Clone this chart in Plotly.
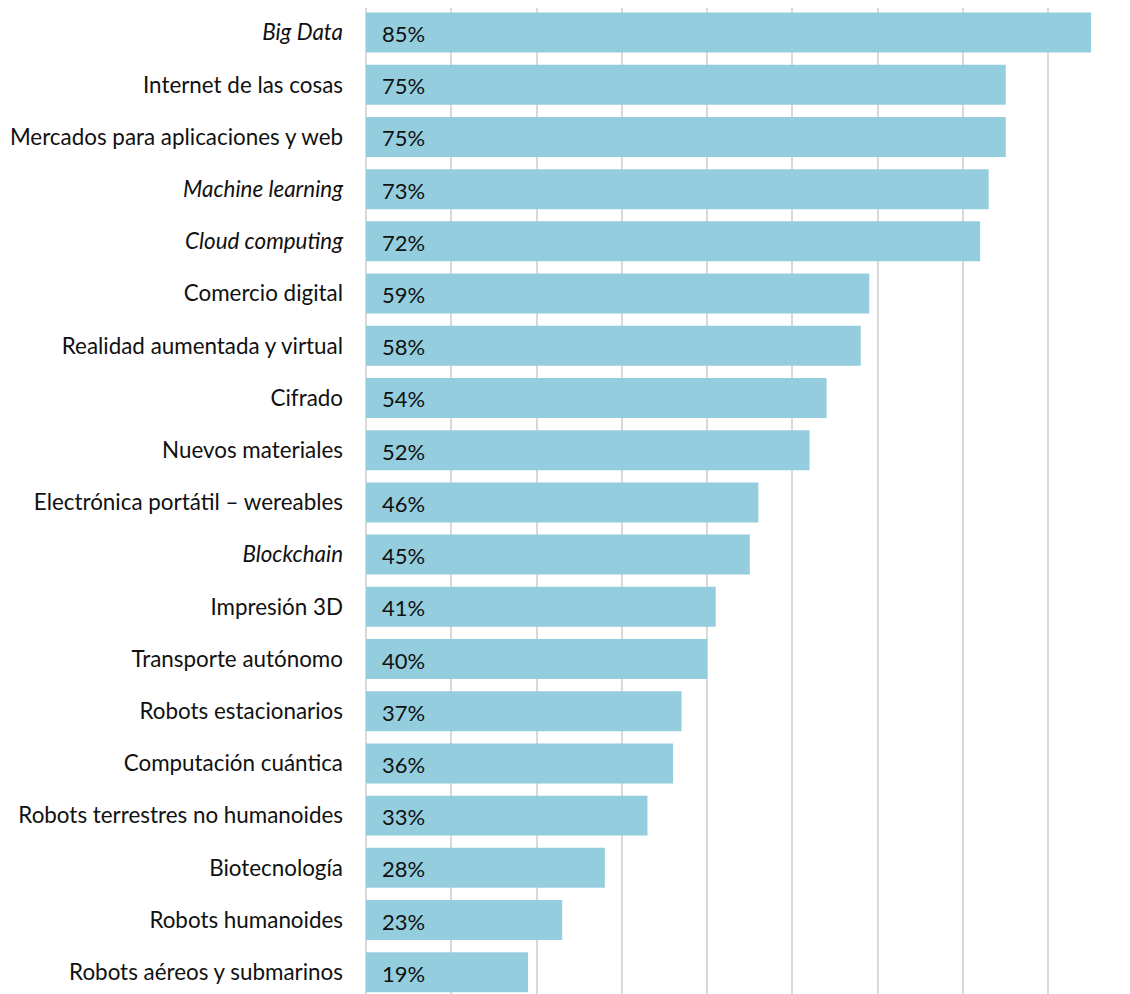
import plotly.graph_objects as go

categories = [
    "<i>Big Data</i>",
    "Internet de las cosas",
    "Mercados para aplicaciones y web",
    "<i>Machine learning</i>",
    "<i>Cloud computing</i>",
    "Comercio digital",
    "Realidad aumentada y virtual",
    "Cifrado",
    "Nuevos materiales",
    "Electrónica portátil – wereables",
    "<i>Blockchain</i>",
    "Impresión 3D",
    "Transporte autónomo",
    "Robots estacionarios",
    "Computación cuántica",
    "Robots terrestres no humanoides",
    "Biotecnología",
    "Robots humanoides",
    "Robots aéreos y submarinos",
]
values = [0.85, 0.75, 0.75, 0.73, 0.72, 0.59, 0.58, 0.54, 0.52, 0.46, 0.45,
          0.41, 0.40, 0.37, 0.36, 0.33, 0.28, 0.23, 0.19]
value_labels = [f"{round(v*100)}%" for v in values]

font_family = "Lato, Carlito, Calibri, 'Open Sans', sans-serif"
fsize = 22.4

fig = go.Figure(go.Bar(
    x=values,
    y=categories,
    orientation="h",
    marker=dict(color="#94CEDE", line=dict(width=0)),
    hoverinfo="skip",
))

for cat, v, lab in zip(categories, values, value_labels):
    fig.add_annotation(x=0, y=cat, text=lab, showarrow=False, xanchor="left",
                       xshift=14, yshift=-1,
                       font=dict(family=font_family, size=22, color="#111111"))

fig.update_layout(
    width=1130, height=994,
    margin=dict(l=358, r=5, t=0, b=0),
    paper_bgcolor="white", plot_bgcolor="white",
    bargap=0.234,
    showlegend=False,
    font=dict(family=font_family, size=fsize, color="#111111"),
)
fig.update_xaxes(
    range=[0, 0.8992], dtick=0.1, tick0=0,
    showgrid=True, gridcolor="#D9D9D9", gridwidth=2,
    zeroline=True, zerolinecolor="#D9D9D9", zerolinewidth=2,
    showticklabels=False, ticks="", showline=False,
)
fig.update_yaxes(
    type="category",
    categoryorder="array", categoryarray=categories,
    range=[18.57, -0.47],
    showgrid=False, ticks="", showline=False,
    ticklabelstandoff=22,
    tickfont=dict(family=font_family, size=fsize, color="#111111"),
)

fig.write_html("out.html")
